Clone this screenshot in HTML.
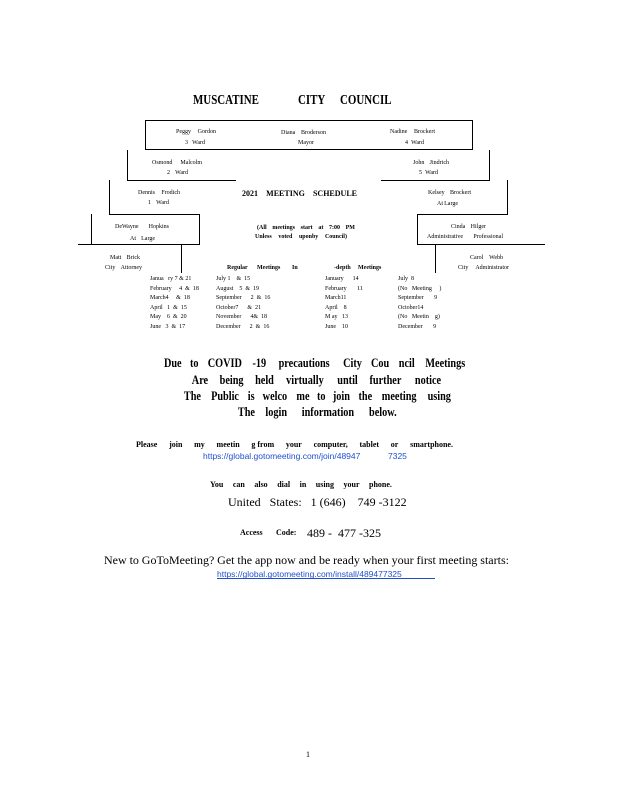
<!DOCTYPE html>
<html><head><meta charset="utf-8"><style>
html,body{margin:0;padding:0;background:#fff;}
body{width:618px;height:800px;position:relative;overflow:hidden;font-family:"Liberation Serif",serif;color:#000;}
.l{position:absolute;display:flex;justify-content:space-between;white-space:nowrap;line-height:1;}
.s{font-size:6px;}
.b{font-weight:bold;}
.t{position:absolute;white-space:nowrap;line-height:1;}
.h{position:absolute;background:#000;height:1px;}
.v{position:absolute;background:#000;width:1px;}
.blue{color:#1f4fd1;font-family:"Liberation Sans",sans-serif;}
.c span{display:inline-block;transform:scaleX(0.82);}
</style></head><body>

<div class="t b" style="left:193px;top:94px;font-size:14px;transform:scaleX(0.78);transform-origin:left;">MUSCATINE</div>
<div class="t b" style="left:298px;top:94px;font-size:14px;transform:scaleX(0.78);transform-origin:left;">CITY</div>
<div class="t b" style="left:340px;top:94px;font-size:14px;transform:scaleX(0.78);transform-origin:left;">COUNCIL</div>

<div style="position:absolute;left:145px;top:120px;width:326px;height:28px;border:1px solid #000;"></div>
<div class="v" style="left:127px;top:150px;height:31px;"></div>
<div class="h" style="left:127px;top:180px;width:109px;"></div>
<div class="v" style="left:489px;top:150px;height:31px;"></div>
<div class="h" style="left:381px;top:180px;width:109px;"></div>
<div class="v" style="left:109px;top:180px;height:35px;"></div>
<div class="h" style="left:109px;top:214px;width:91px;"></div>
<div class="v" style="left:507px;top:180px;height:35px;"></div>
<div class="h" style="left:417px;top:214px;width:91px;"></div>
<div class="v" style="left:91px;top:214px;height:31px;"></div>
<div class="v" style="left:199px;top:214px;height:31px;"></div>
<div class="h" style="left:78px;top:244px;width:122px;"></div>
<div class="v" style="left:417px;top:214px;height:31px;"></div>
<div class="h" style="left:417px;top:244px;width:128px;"></div>
<div class="v" style="left:181px;top:244px;height:29px;"></div>
<div class="v" style="left:435px;top:244px;height:29px;"></div>

<div class="l s" style="left:176px;width:40px;top:129px;"><span>Peggy</span><span>Gordon</span></div>
<div class="l s" style="left:185px;width:20px;top:140px;"><span>3</span><span>Ward</span></div>
<div class="l s" style="left:281px;width:45px;top:130px;"><span>Diana</span><span>Broderson</span></div>
<div class="t s" style="left:298px;top:140px;">Mayor</div>
<div class="l s" style="left:390px;width:45px;top:129px;"><span>Nadine</span><span>Brockert</span></div>
<div class="l s" style="left:405px;width:19px;top:140px;"><span>4</span><span>Ward</span></div>

<div class="l s" style="left:152px;width:50px;top:160px;"><span>Osmond</span><span>Malcolm</span></div>
<div class="l s" style="left:167px;width:21px;top:170px;"><span>2</span><span>Ward</span></div>
<div class="l s" style="left:413px;width:36px;top:160px;"><span>John</span><span>Jindrich</span></div>
<div class="l s" style="left:419px;width:19px;top:170px;"><span>5</span><span>Ward</span></div>

<div class="l s" style="left:138px;width:42px;top:190px;"><span>Dennis</span><span>Frodich</span></div>
<div class="l s" style="left:148px;width:21px;top:200px;"><span>1</span><span>Ward</span></div>
<div class="l b" style="left:242px;width:115px;top:190px;font-size:8px;"><span>2021</span><span>MEETING</span><span>SCHEDULE</span></div>
<div class="l s" style="left:428px;width:43px;top:190px;"><span>Kelsey</span><span>Brockert</span></div>
<div class="l s" style="left:437px;width:21px;top:201px;"><span>At</span><span>Large</span></div>

<div class="l s" style="left:115px;width:54px;top:224px;"><span>DeWayne</span><span>Hopkins</span></div>
<div class="l s" style="left:130px;width:25px;top:236px;"><span>At</span><span>Large</span></div>
<div class="l s b" style="left:257px;width:98px;top:225px;"><span>(All</span><span>meetings</span><span>start</span><span>at</span><span>7:00</span><span>PM</span></div>
<div class="l s b" style="left:255px;width:92px;top:234px;"><span>Unless</span><span>voted</span><span>uponby</span><span>Council)</span></div>
<div class="l s" style="left:451px;width:35px;top:224px;"><span>Cinda</span><span>Hilger</span></div>
<div class="l s" style="left:427px;width:76px;top:234px;"><span>Administrative</span><span>Professional</span></div>

<div class="l s" style="left:110px;width:30px;top:255px;"><span>Matt</span><span>Brick</span></div>
<div class="l s" style="left:105px;width:37px;top:265px;"><span>City</span><span>Attorney</span></div>
<div class="l s" style="left:470px;width:33px;top:255px;"><span>Carol</span><span>Webb</span></div>
<div class="l s" style="left:458px;width:51px;top:265px;"><span>City</span><span>Administrator</span></div>

<div class="t s b" style="left:227px;top:265px;">Regular</div>
<div class="t s b" style="left:257px;top:265px;">Meetings</div>
<div class="t s b" style="left:292px;top:265px;">In</div>
<div class="t s b" style="left:334px;top:265px;">-depth</div>
<div class="t s b" style="left:358px;top:265px;">Meetings</div>

<div class="t s" style="left:150px;top:275px;line-height:9.6px;white-space:pre;">Janua   ry 7 &amp; 21
February     4  &amp;  18
March4     &amp;  18
April   1  &amp;  15
May    6  &amp;  20
June   3  &amp;  17</div>
<div class="t s" style="left:216px;top:275px;line-height:9.6px;white-space:pre;">July 1    &amp;  15
August    5  &amp;  19
September      2  &amp;  16
October7      &amp;  21
November      4&amp;  18
December      2  &amp;  16</div>
<div class="t s" style="left:325px;top:275px;line-height:9.6px;white-space:pre;">January      14
February       11
March11
April    8
M ay   13
June    10</div>
<div class="t s" style="left:398px;top:275px;line-height:9.6px;white-space:pre;">July  8
(No   Meeting     )
September       9
October14
(No   Meetin    g)
December       9</div>

<div class="l b c" style="left:162px;width:308px;top:357px;font-size:12.5px;"><span>Due</span><span>to</span><span>COVID</span><span>-19</span><span>precautions</span><span>City</span><span>Cou</span><span>ncil</span><span>Meetings</span></div>
<div class="l b c" style="left:190px;width:254px;top:374px;font-size:12.5px;"><span>Are</span><span>being</span><span>held</span><span>virtually</span><span>until</span><span>further</span><span>notice</span></div>
<div class="l b c" style="left:182px;width:272px;top:390px;font-size:12.5px;"><span>The</span><span>Public</span><span>is</span><span>welco</span><span>me</span><span>to</span><span>join</span><span>the</span><span>meeting</span><span>using</span></div>
<div class="l b c" style="left:236px;width:164px;top:406px;font-size:12.5px;"><span>The</span><span>login</span><span>information</span><span>below.</span></div>

<div class="l b" style="left:136px;width:317px;top:441px;font-size:8px;"><span>Please</span><span>join</span><span>my</span><span>meetin</span><span>g from</span><span>your</span><span>computer,</span><span>tablet</span><span>or</span><span>smartphone.</span></div>
<div class="t blue" style="left:203px;top:452px;font-size:8.5px;">https://global.gotomeeting.com/join/48947</div>
<div class="t blue" style="left:388px;top:452px;font-size:8.5px;">7325</div>

<div class="l b" style="left:210px;width:182px;top:481px;font-size:8px;"><span>You</span><span>can</span><span>also</span><span>dial</span><span>in</span><span>using</span><span>your</span><span>phone.</span></div>
<div class="t" style="left:228px;top:496px;font-size:12px;white-space:pre;">United   States:   1 (646)    749 -3122</div>

<div class="t b" style="left:240px;top:529px;font-size:8px;">Access</div>
<div class="t b" style="left:276px;top:529px;font-size:8px;">Code:</div>
<div class="t" style="left:307px;top:527px;font-size:12px;white-space:pre;">489 -  477 -325</div>

<div class="l" style="left:104px;width:405px;top:554px;font-size:12px;"><span>New</span><span>to</span><span>GoToMeeting?</span><span>Get</span><span>the</span><span>app</span><span>now</span><span>and</span><span>be</span><span>ready</span><span>when</span><span>your</span><span>first</span><span>meeting</span><span>starts:</span></div>
<div class="t blue" style="left:217px;top:570px;font-size:8.5px;">https://global.gotomeeting.com/install/489477325</div>
<div class="h" style="left:217px;top:578px;width:218px;background:#1f4fd1;"></div>

<div class="t" style="left:306px;top:751px;font-size:8px;">1</div>
</body></html>
